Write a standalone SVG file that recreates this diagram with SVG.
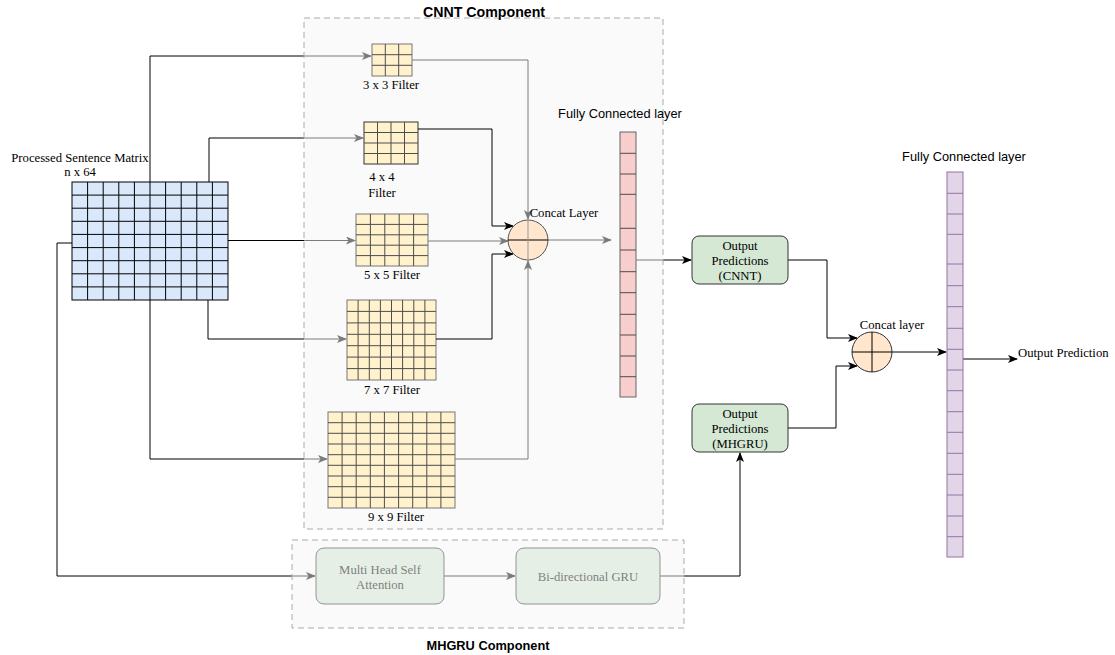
<svg xmlns="http://www.w3.org/2000/svg" width="1115" height="655" viewBox="0 0 1115 655">
<style>
.ser{font-family:"Liberation Serif","Times New Roman",serif;font-size:12.7px;fill:#000}
.san{font-family:"Liberation Sans",Arial,sans-serif;font-size:12.8px;fill:#000}
.ttl{font-family:"Liberation Sans",Arial,sans-serif;font-weight:bold;fill:#000}
.c{text-anchor:middle}
.conn path{fill:none;stroke:#000;stroke-width:1}
.grid{fill:none;stroke:#000;stroke-width:1}
.fgrid{fill:none;stroke:#4d4d4d;stroke-width:1}
.mat{fill:#dae8fc;stroke:#000}
.fil{fill:#fff2cc;stroke:#777}
.fc1{fill:#f8cecc;stroke:#666}
.fc2{fill:#e1d5e7;stroke:#9673a6}
.cir{fill:#ffe6cc;stroke:#555}
.box{fill:#d5e8d4;stroke:#333}
.cont{fill:#f5f5f5;fill-opacity:0.5;stroke:#aaa;stroke-dasharray:6 4}
</style>
<defs>
<marker id="ah" markerUnits="userSpaceOnUse" markerWidth="10" markerHeight="8" refX="9" refY="4" orient="auto">
<path d="M0,0 L10,4 L0,8 L2.5,4 z" fill="#000"/>
</marker>
</defs>
<rect width="1115" height="655" fill="#fff"/>

<g id="connectors" class="conn">
<path d="M150,182 V56 H371" marker-end="url(#ah)"/>
<path d="M209,182 V138 H363" marker-end="url(#ah)"/>
<path d="M228,240.5 H355" marker-end="url(#ah)"/>
<path d="M208,300 V339 H346" marker-end="url(#ah)"/>
<path d="M150,300 V459 H327" marker-end="url(#ah)"/>
<path d="M72,243 H57 V576 H315" marker-end="url(#ah)"/>
<path d="M412,60 H528 V219" marker-end="url(#ah)"/>
<path d="M428,241 H508" marker-end="url(#ah)"/>
<path d="M455,459 H528 V261" marker-end="url(#ah)"/>
<path d="M548,240 H611" marker-end="url(#ah)"/>
<path d="M636,260 H691" marker-end="url(#ah)"/>
</g>

<g id="cnnt-component">
<rect class="cont" x="304" y="18" width="359" height="511"/>
<text class="ttl c" x="484" y="17" style="font-size:14.2px">CNNT Component</text>
</g>

<g id="input-matrix">
<rect class="mat" x="72" y="182" width="156" height="118"/>
<path class="grid" d="M87.6,182V300M103.2,182V300M118.8,182V300M134.4,182V300M150,182V300M165.6,182V300M181.2,182V300M196.8,182V300M212.4,182V300M72,195.1H228M72,208.2H228M72,221.3H228M72,234.4H228M72,247.6H228M72,260.7H228M72,273.8H228M72,286.9H228"/>
<text class="ser c" x="80" y="162">Processed Sentence Matrix</text>
<text class="ser c" x="80" y="176">n x 64</text>
</g>

<g id="filter-3x3">
<rect class="fil" x="372" y="44" width="40" height="32"/>
<path class="fgrid" d="M385.3,44V76M398.7,44V76M372,54.7H412M372,65.3H412"/>
<text class="ser c" x="391" y="89">3 x 3 Filter</text>
</g>

<g id="filter-4x4">
<rect class="fil" x="364" y="122" width="54" height="42" style="stroke:#333"/>
<path class="fgrid" d="M377.5,122V164M391,122V164M404.5,122V164M364,132.5H418M364,143H418M364,153.5H418"/>
<text class="ser c" x="382" y="181">4 x 4</text>
<text class="ser c" x="382" y="197">Filter</text>
</g>

<g id="filter-5x5">
<rect class="fil" x="356" y="214" width="72" height="52"/>
<path class="fgrid" d="M370.4,214V266M384.8,214V266M399.2,214V266M413.6,214V266M356,224.4H428M356,234.8H428M356,245.2H428M356,255.6H428"/>
<text class="ser c" x="392" y="279">5 x 5 Filter</text>
</g>

<g id="filter-7x7">
<rect class="fil" x="347" y="300" width="89" height="80"/>
<path class="fgrid" d="M358.1,300V380M369.3,300V380M380.4,300V380M391.5,300V380M402.6,300V380M413.8,300V380M424.9,300V380M347,311.4H436M347,322.9H436M347,334.3H436M347,345.7H436M347,357.1H436M347,368.6H436"/>
<text class="ser c" x="392" y="394">7 x 7 Filter</text>
</g>

<g id="filter-9x9">
<rect class="fil" x="328" y="412" width="127" height="96"/>
<path class="fgrid" d="M342.1,412V508M356.2,412V508M370.3,412V508M384.4,412V508M398.6,412V508M412.7,412V508M426.8,412V508M440.9,412V508M328,422.7H455M328,433.3H455M328,444H455M328,454.7H455M328,465.3H455M328,476H455M328,486.7H455M328,497.3H455"/>
<text class="ser c" x="396" y="521">9 x 9 Filter</text>
</g>

<g id="connectors-front" class="conn">
<path d="M418,129 H492 V226 H513" marker-end="url(#ah)"/>
<path d="M436,339 H492 V254 H513" marker-end="url(#ah)"/>
<path d="M788,260 H827 V338 H857" marker-end="url(#ah)"/>
<path d="M788,428 H836 V366 H857" marker-end="url(#ah)"/>
<path d="M444,576 H515" marker-end="url(#ah)"/>
<path d="M660,576 H740 V453" marker-end="url(#ah)"/>
<path d="M892,352 H946" marker-end="url(#ah)"/>
<path d="M963,359 H1017" marker-end="url(#ah)"/>
</g>

<g id="concat-1">
<circle class="cir" cx="528" cy="240" r="20"/>
<path d="M508,240H548" stroke="#000" fill="none"/>
<path d="M528,220V260" stroke="#999" fill="none"/>
<text class="ser c" x="564" y="217">Concat Layer</text>
</g>

<g id="fc-1">
<rect class="fc1" x="620" y="132" width="16" height="265"/>
<path class="fgrid" d="M620,153.3H636M620,174H636M620,194.3H636M620,228.3H636M620,250H636M620,271.7H636M620,292.7H636M620,314.3H636M620,335H636M620,356H636M620,376.7H636"/>
<text class="san c" x="620" y="118">Fully Connected layer</text>
</g>

<g id="multi-head-attention">
<rect class="box" x="316" y="548" width="128" height="56" rx="8"/>
<text class="ser c" x="380" y="574">Multi Head Self</text>
<text class="ser c" x="380" y="589">Attention</text>
</g>

<g id="bigru">
<rect class="box" x="516" y="548" width="144" height="56" rx="8"/>
<text class="ser c" x="588" y="581">Bi-directional GRU</text>
</g>

<g id="mhgru-component">
<rect class="cont" x="292" y="540" width="392" height="88"/>
<text class="ttl c" x="488" y="650" style="font-size:12.8px">MHGRU Component</text>
</g>

<g id="output-cnnt">
<rect class="box" x="692" y="236" width="96" height="48" rx="7"/>
<text class="ser c" x="740" y="250">Output</text>
<text class="ser c" x="740" y="265">Predictions</text>
<text class="ser c" x="740" y="280">(CNNT)</text>
</g>

<g id="output-mhgru">
<rect class="box" x="692" y="404" width="96" height="48" rx="7"/>
<text class="ser c" x="740" y="418">Output</text>
<text class="ser c" x="740" y="433">Predictions</text>
<text class="ser c" x="740" y="448">(MHGRU)</text>
</g>

<g id="concat-2">
<circle class="cir" cx="872" cy="352" r="20" style="stroke:#333"/>
<path class="grid" d="M852,352H892M872,332V372"/>
<text class="ser c" x="892" y="329">Concat layer</text>
</g>

<g id="fc-2">
<rect class="fc2" x="947" y="172" width="16" height="385"/>
<path class="grid" style="stroke:#9673a6" d="M947,193.3H963M947,214H963M947,234.3H963M947,264H963M947,285.7H963M947,306.7H963M947,328.3H963M947,349.3H963M947,370H963M947,390.7H963M947,411.7H963M947,432.3H963M947,453.3H963M947,474.3H963M947,495H963M947,516H963M947,536.7H963"/>
<text class="san c" x="964" y="161">Fully Connected layer</text>
</g>

<g id="output-prediction">
<text class="ser" x="1018" y="357">Output Prediction</text>
</g>
</svg>
